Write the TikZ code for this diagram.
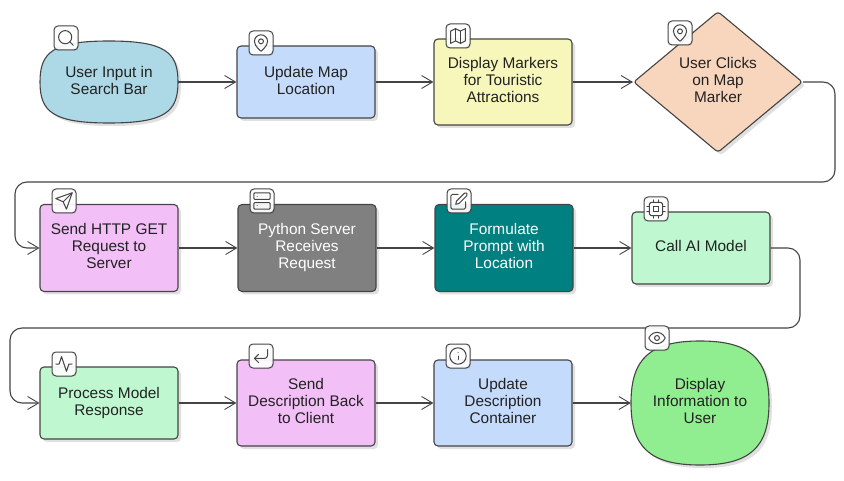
\documentclass[tikz,border=0pt]{standalone}
\usepackage{fontspec}
\setmainfont{Liberation Sans}
\usetikzlibrary{arrows.meta,shapes.geometric,shadows}

\definecolor{edgegray}{HTML}{444444}
\definecolor{inkgray}{HTML}{222222}
\definecolor{fillsky}{HTML}{ADD8E6}
\definecolor{fillblue}{HTML}{C5DBFB}
\definecolor{fillyellow}{HTML}{F7F7BC}
\definecolor{fillpeach}{HTML}{F8D6BE}
\definecolor{fillpink}{HTML}{F2C0F7}
\definecolor{fillgray}{HTML}{808080}
\definecolor{fillteal}{HTML}{008080}
\definecolor{fillmint}{HTML}{BFF8D0}
\definecolor{fillgreen}{HTML}{90EE90}

\tikzset{
  shapeshadow/.style={drop shadow={shadow xshift=3pt, shadow yshift=-3pt, fill=black, opacity=.12}},
  labeltext/.style={text=inkgray, align=center, font=\fontsize{15.4}{17}\selectfont,
    inner sep=0pt, text depth=4pt},
  flowshape/.style={labeltext, shapeshadow, draw=edgegray, line width=1.1pt},
  stepbox/.style={flowshape, rectangle, rounded corners=4pt, minimum width=138pt},
  blobnode/.style={labeltext, rectangle, minimum width=138pt},
  blobline/.style={shapeshadow, draw=edgegray, line width=1.1pt},
  choicebox/.style={flowshape, diamond, rounded corners=3pt, minimum width=169pt, minimum height=141pt},
  link/.style={draw=edgegray, line width=1.1pt, -{Straight Barb[length=11pt,width=13pt,line width=.9pt]}},
  wrap/.style={link, rounded corners=12pt},
  badge/.style={draw=edgegray, line width=1pt, fill=white, fill opacity=.93, rectangle,
    rounded corners=4pt, minimum size=24pt, inner sep=0pt,
    drop shadow={shadow xshift=1pt, shadow yshift=-1pt, fill=black, opacity=.06}},
  glyph/.style={draw=edgegray, line width=1pt, line cap=round, line join=round},
  iconsearch/.pic={\begin{scope}[scale=.82, shift={(-12,-12)}]
    \draw[glyph] (11,11) circle (8);
    \draw[glyph] (21,21) -- (16.65,16.65);
  \end{scope}},
  iconpin/.pic={\begin{scope}[scale=.82, shift={(-12,-12)}]
    \draw[glyph] (12,22) .. controls (12,22) and (4,16) .. (4,10)
      .. controls (4,5.6) and (7.6,2) .. (12,2) .. controls (16.4,2) and (20,5.6) .. (20,10)
      .. controls (20,16) and (12,22) .. cycle;
    \draw[glyph] (12,10) circle (3);
  \end{scope}},
  iconmap/.pic={\begin{scope}[scale=.82, shift={(-12,-12)}]
    \draw[glyph] (3,6) -- (9,3) -- (15,6) -- (21,3) -- (21,18) -- (15,21) -- (9,18) -- (3,21) -- cycle;
    \draw[glyph] (9,3) -- (9,18);
    \draw[glyph] (15,6) -- (15,21);
  \end{scope}},
  iconsend/.pic={\begin{scope}[scale=.82, shift={(-12,-12)}]
    \draw[glyph] (22,2) -- (15,22) -- (11,13) -- (2,9) -- cycle;
    \draw[glyph] (22,2) -- (11,13);
  \end{scope}},
  iconserver/.pic={\begin{scope}[scale=.82, shift={(-12,-12)}]
    \draw[glyph, rounded corners=1pt] (2,2) rectangle (22,10);
    \draw[glyph, rounded corners=1pt] (2,14) rectangle (22,22);
    \draw[glyph] (6,6) -- (6.01,6);
    \draw[glyph] (6,18) -- (6.01,18);
  \end{scope}},
  iconpen/.pic={\begin{scope}[scale=.82, shift={(-12,-12)}]
    \draw[glyph, rounded corners=1.5pt] (11,4) -- (2,4) -- (2,22) -- (20,22) -- (20,13);
    \draw[glyph] (18.5,2.5) .. controls (19.3,1.7) and (20.7,1.7) .. (21.5,2.5)
      .. controls (22.3,3.3) and (22.3,4.7) .. (21.5,5.5) -- (12,15) -- (8,16) -- (9,12) -- cycle;
  \end{scope}},
  iconcpu/.pic={\begin{scope}[scale=.82, shift={(-12,-12)}]
    \draw[glyph, rounded corners=1.5pt] (4,4) rectangle (20,20);
    \draw[glyph] (9,9) rectangle (15,15);
    \foreach \tick in {9,15} {
      \draw[glyph] (\tick,1) -- (\tick,4);
      \draw[glyph] (\tick,20) -- (\tick,23);
      \draw[glyph] (1,\tick) -- (4,\tick);
      \draw[glyph] (20,\tick) -- (23,\tick);
    }
  \end{scope}},
  iconpulse/.pic={\begin{scope}[scale=.82, shift={(-12,-12)}]
    \draw[glyph] (22,12) -- (18,12) -- (15,21) -- (9,3) -- (6,12) -- (2,12);
  \end{scope}},
  iconreturn/.pic={\begin{scope}[scale=.82, shift={(-12,-12)}]
    \draw[glyph] (9,10) -- (4,15) -- (9,20);
    \draw[glyph, rounded corners=3pt] (20,4) -- (20,15) -- (4,15);
  \end{scope}},
  iconinfo/.pic={\begin{scope}[scale=.82, shift={(-12,-12)}]
    \draw[glyph] (12,12) circle (10);
    \draw[glyph] (12,16) -- (12,12);
    \draw[glyph] (12,8) -- (12.01,8);
  \end{scope}},
  iconeye/.pic={\begin{scope}[scale=.82, shift={(-12,-12)}]
    \draw[glyph] (2,12) .. controls (2,12) and (5,5) .. (12,5) .. controls (19,5) and (22,12) .. (22,12)
      .. controls (22,12) and (19,19) .. (12,19) .. controls (5,19) and (2,12) .. (2,12) -- cycle;
    \draw[glyph] (12,12) circle (3);
  \end{scope}},
}

% #1 centre, #2 half width, #3 half height, #4 and #5 how square the shoulders are, #6 fill
\newcommand{\drawblob}[6]{
  \draw[blobline, fill=#6] (#1) ++(-#2,0)
    .. controls +(0,{-#3*#4}) and +({-#2*#5},0) .. ++(#2,-#3)
    .. controls +({#2*#5},0) and +(0,{-#3*#4}) .. ++(#2,#3)
    .. controls +(0,{#3*#4}) and +({#2*#5},0) .. ++(-#2,#3)
    .. controls +({-#2*#5},0) and +(0,{#3*#4}) .. ++(-#2,-#3) -- cycle;
}

\begin{document}
\begin{tikzpicture}[x=1pt, y=-1pt]
  \useasboundingbox (0,0) rectangle (844,481);

  % first row
  \coordinate (searchmid) at (109,82);
  \drawblob{searchmid}{69}{41}{.72}{.82}{fillsky}
  \node[blobnode, minimum height=82pt] (searchbar) at (searchmid) {User Input in\\Search Bar};
  \node[stepbox, fill=fillblue, minimum height=72pt] (updatemap) at (306,82) {Update Map\\Location};
  \node[stepbox, fill=fillyellow, minimum height=86pt] (markers) at (503,82) {Display Markers\\for Touristic\\Attractions};
  \node[choicebox, fill=fillpeach] (clicks) at (718,82) {User Clicks\\on Map\\Marker};

  % second row
  \node[stepbox, fill=fillpink, minimum height=87pt] (httpget) at (109,248) {Send HTTP GET\\Request to\\Server};
  \node[stepbox, fill=fillgray, text=white, minimum height=87pt] (pyserver) at (307,248) {Python Server\\Receives\\Request};
  \node[stepbox, fill=fillteal, text=white, minimum height=87pt] (prompt) at (504,248) {Formulate\\Prompt with\\Location};
  \node[stepbox, fill=fillmint, minimum height=72pt] (aimodel) at (701,248) {Call AI Model};

  % third row
  \node[stepbox, fill=fillmint, minimum height=72pt] (response) at (109,403) {Process Model\\Response};
  \node[stepbox, fill=fillpink, minimum height=86pt] (sendback) at (306,403) {Send\\Description Back\\to Client};
  \node[stepbox, fill=fillblue, minimum height=86pt] (container) at (503,403) {Update\\Description\\Container};
  \coordinate (displaymid) at (700,403);
  \drawblob{displaymid}{69}{62}{.72}{.72}{fillgreen}
  \node[blobnode, minimum height=124pt] (display) at (displaymid) {Display\\Information to\\User};

  % bends of the two long connectors
  \coordinate (wrapaa) at (835,182);
  \coordinate (wrapab) at (15,182);
  \coordinate (wrapba) at (800,328);
  \coordinate (wrapbb) at (10,328);

  \draw[link] (searchbar) -- (updatemap);
  \draw[link] (updatemap) -- (markers);
  \draw[link] (markers) -- (clicks);
  \draw[wrap] (clicks.east) -| (wrapaa) -- (wrapab) |- (httpget.west);
  \draw[link] (httpget) -- (pyserver);
  \draw[link] (pyserver) -- (prompt);
  \draw[link] (prompt) -- (aimodel.west |- prompt);
  \draw[wrap] (aimodel.east) -| (wrapba) -- (wrapbb) |- (response.west);
  \draw[link] (response) -- (sendback);
  \draw[link] (sendback) -- (container);
  \draw[link] (container) -- (display);

  % icon badges
  \node[badge] (searchbadge) at (66,38) {};
  \pic at (searchbadge) {iconsearch};
  \node[badge] (updatebadge) at (261,43) {};
  \pic at (updatebadge) {iconpin};
  \node[badge] (markersbadge) at (458,36) {};
  \pic at (markersbadge) {iconmap};
  \node[badge] (clicksbadge) at (680,33) {};
  \pic at (clicksbadge) {iconpin};
  \node[badge] (httpbadge) at (64,201) {};
  \pic at (httpbadge) {iconsend};
  \node[badge] (serverbadge) at (262,201) {};
  \pic at (serverbadge) {iconserver};
  \node[badge] (promptbadge) at (459,201) {};
  \pic at (promptbadge) {iconpen};
  \node[badge] (modelbadge) at (656,209) {};
  \pic at (modelbadge) {iconcpu};
  \node[badge] (responsebadge) at (64,364) {};
  \pic at (responsebadge) {iconpulse};
  \node[badge] (sendbadge) at (261,356) {};
  \pic at (sendbadge) {iconreturn};
  \node[badge] (containerbadge) at (458,356) {};
  \pic at (containerbadge) {iconinfo};
  \node[badge] (displaybadge) at (657,338) {};
  \pic at (displaybadge) {iconeye};
\end{tikzpicture}
\end{document}
